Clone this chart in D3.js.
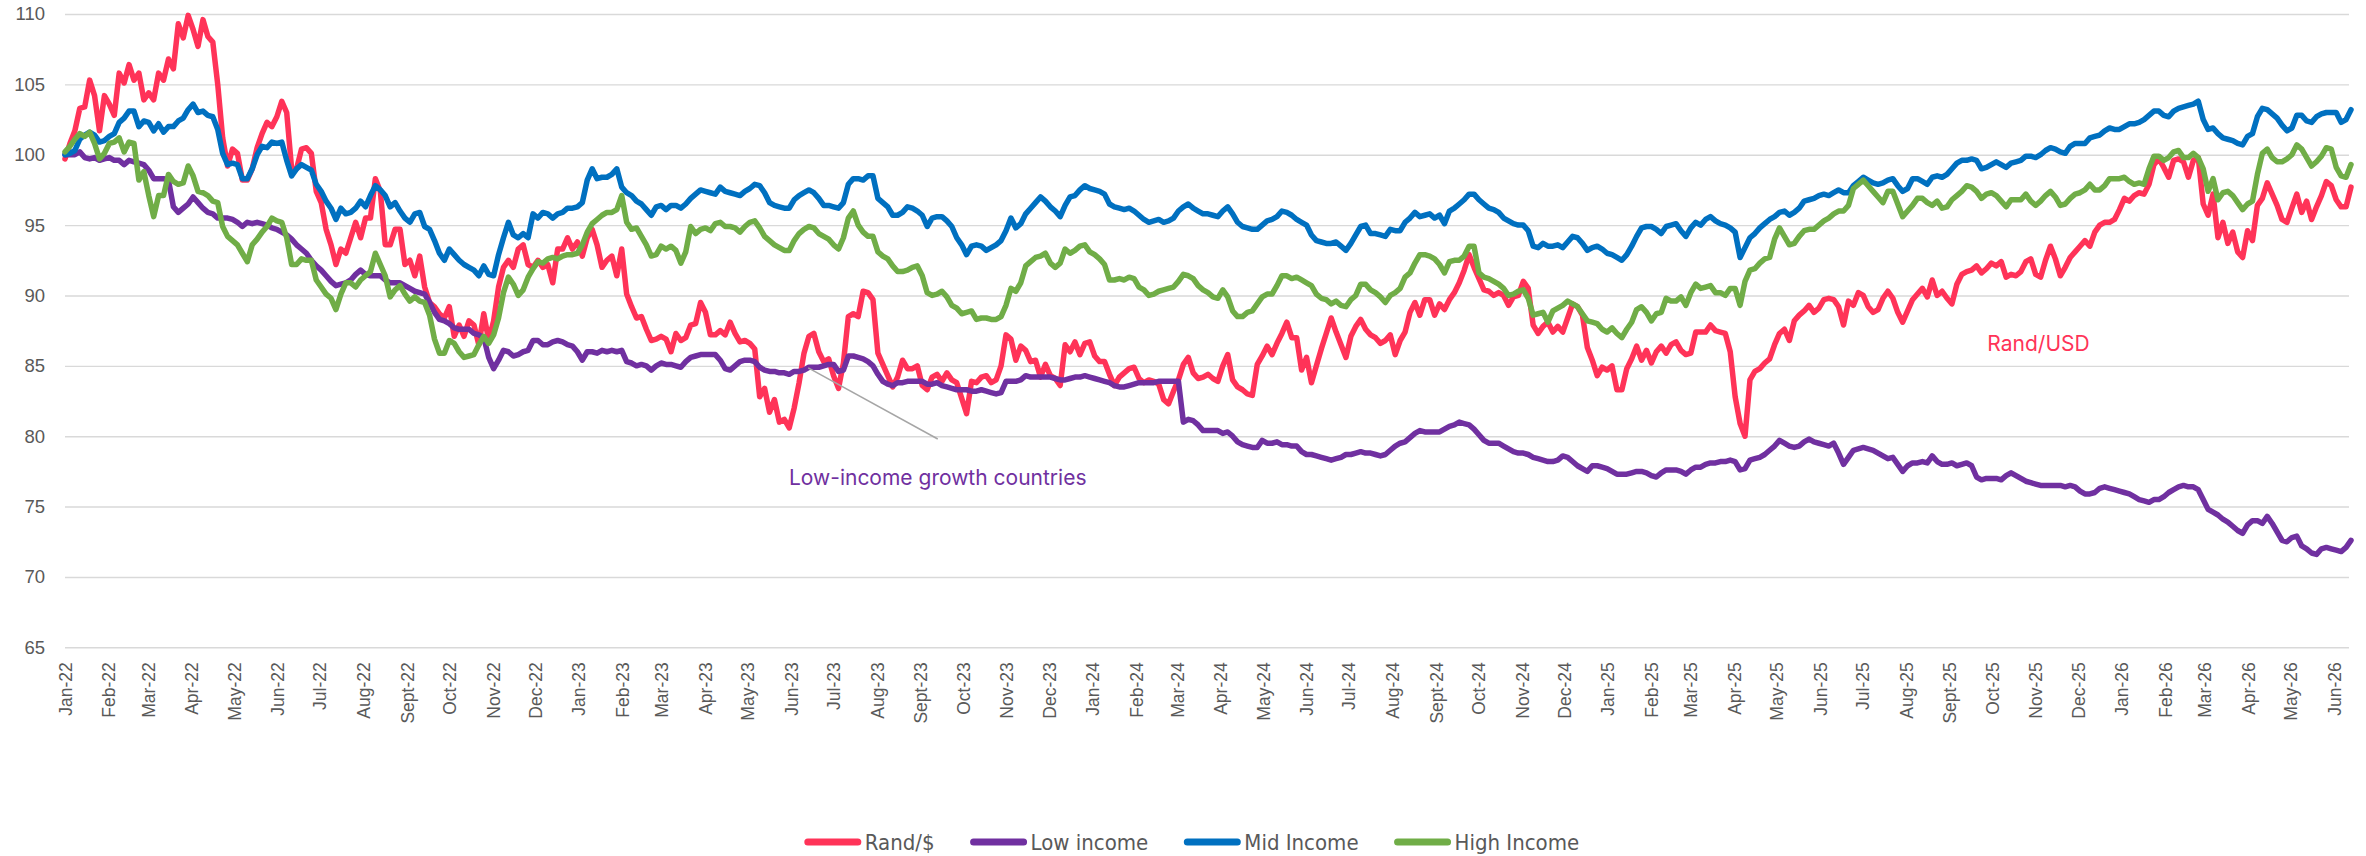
<!DOCTYPE html>
<html>
<head>
<meta charset="utf-8">
<script src="https://cdn.jsdelivr.net/npm/d3@7"></script>
<style>
  html, body { margin: 0; padding: 0; background: #ffffff; }
  svg { display: block; }
</style>
</head>
<body>
<script>
// Index levels (start = 100), sampled twice a week from 1 Jan 2022.
const startDate = new Date(2022, 0, 1);
const stepDays = 3.5;

const randUsd = [
  99.7, 100.8, 101.7, 103.3, 103.4, 105.3, 104.2, 101.7, 104.2, 103.6,
  102.8, 105.8, 105.1, 106.4, 105.3, 105.8, 103.9, 104.4, 103.9, 105.8,
  105.3, 106.8, 106.1, 109.3, 108.3, 109.9, 108.9, 107.7, 109.6, 108.4,
  108.0, 105.0, 101.2, 99.2, 100.4, 100.1, 98.2, 98.2, 99.0, 100.5,
  101.5, 102.3, 102.0, 102.7, 103.8, 103.0, 99.0, 99.0, 100.4, 100.5,
  100.1, 97.4, 96.6, 94.7, 93.6, 92.2, 93.3, 93.0, 94.1, 95.2,
  94.1, 95.5, 95.5, 98.3, 97.4, 93.6, 93.6, 94.7, 94.7, 92.2,
  92.5, 91.4, 92.8, 90.6, 89.5, 89.2, 88.7, 88.4, 89.2, 87.1,
  87.9, 87.1, 88.2, 87.9, 86.5, 88.7, 86.8, 88.2, 90.6, 92.0,
  92.5, 92.0, 93.3, 93.6, 92.2, 92.0, 92.5, 92.0, 92.2, 90.9,
  93.3, 93.3, 94.1, 93.3, 93.8, 92.8, 94.1, 94.7, 93.6, 92.0,
  92.5, 92.8, 91.4, 93.3, 90.1, 89.2, 88.4,
  88.5, 87.6, 86.8, 86.9, 87.1, 86.9, 86.0, 87.3, 86.8, 87.0,
  87.9, 88.0, 89.5, 88.8, 87.2, 87.2, 87.5, 87.2, 88.1, 87.3,
  86.7, 86.8, 86.6, 86.2, 82.8, 83.4, 81.7, 82.6, 81.0, 81.2,
  80.6, 82.0, 83.8, 85.9, 87.1, 87.3, 86.0, 85.3, 85.5, 84.3,
  83.4, 85.2, 88.5, 88.7, 88.5, 90.3, 90.2, 89.7, 85.9, 85.1,
  84.3, 83.5, 84.2, 85.4, 84.8, 84.8, 85.0, 83.6, 83.3, 84.2,
  84.4, 83.9, 84.5, 84.0, 83.8, 82.7, 81.6, 83.9, 83.8, 84.2,
  84.3, 83.8, 84.0, 85.0, 87.2, 86.9, 85.4, 86.4, 86.1, 85.3,
  85.4, 84.2, 85.1, 84.3, 84.1, 83.6, 86.5, 86.0, 86.7, 85.8,
  86.6, 86.7, 85.7, 85.3, 85.3, 84.4, 83.6, 84.2, 84.5, 84.8,
  84.9, 84.1, 83.8, 84.0, 83.9, 83.7, 82.6, 82.3, 83.2, 84.0,
  85.1, 85.6, 84.5, 84.1, 84.2, 84.4,
  84.1, 83.9, 85.0, 85.8, 84.0, 83.5, 83.3, 83.0, 82.9, 85.1,
  85.7, 86.4, 85.8, 86.6, 87.3, 88.1, 87.0, 87.0, 84.7, 85.6,
  83.8, 85.0, 86.2, 87.3, 88.4, 87.4, 86.5, 85.6, 87.1, 87.8,
  88.3, 87.6, 87.2, 87.0, 86.6, 86.8, 87.2, 85.8, 86.8, 87.4,
  88.8, 89.5, 88.6, 89.7, 89.7, 88.6, 89.4, 89.0, 89.7, 90.2,
  90.9, 91.8, 92.9, 92.0, 91.2, 90.4, 90.3, 90.0, 90.2, 90.0,
  89.3, 89.9, 90.0, 91.0, 90.5, 87.9, 87.3, 87.8, 88.1, 87.4,
  87.8, 87.4, 88.4, 89.4, 89.2, 88.6, 86.3, 85.4, 84.3, 84.9,
  84.7, 85.0, 83.3, 83.3, 84.8, 85.5, 86.4, 85.4, 86.1, 85.2,
  86.0, 86.4, 85.9, 86.5, 86.7, 86.1, 85.8, 85.9, 87.4, 87.4,
  87.4, 87.9, 87.5, 87.4, 87.3, 86.0, 82.8, 80.9, 80.0, 84.0,
  84.6, 84.8, 85.2, 85.5, 86.5,
  87.3, 87.6, 86.8, 88.2, 88.6, 88.9, 89.3, 88.8, 89.1, 89.7,
  89.8, 89.7, 89.2, 87.9, 89.6, 89.3, 90.2, 90.0, 89.2, 88.8,
  89.0, 89.8, 90.3, 89.8, 88.8, 88.1, 88.9, 89.7, 90.1, 90.5,
  89.9, 91.1, 90.0, 90.3, 89.8, 89.4, 90.8, 91.5, 91.7, 91.8,
  92.1, 91.6, 91.9, 92.3, 92.1, 92.4, 91.3, 91.5, 91.4, 91.7,
  92.4, 92.6, 91.5, 91.3, 92.5, 93.5, 92.6, 91.4, 92.0, 92.7,
  93.1, 93.5, 93.9, 93.5, 94.5, 95.0, 95.2, 95.2, 95.4, 96.1,
  96.9, 96.7, 97.1, 97.3, 97.2, 97.9, 99.3, 99.7, 99.1, 98.4,
  99.6, 99.7, 99.5, 98.4, 99.6, 99.8, 96.5, 95.7, 97.2, 94.1,
  95.2, 93.7, 94.5, 93.1, 92.7, 94.6, 93.9, 96.4, 96.9, 98.0,
  97.2, 96.4, 95.4, 95.2, 96.2, 97.2, 95.9, 96.7, 95.4, 96.3,
  97.1, 98.1, 97.8, 96.8, 96.3, 96.3, 97.7
];

const lowIncome = [
  100.0, 100.0, 100.0, 100.2, 99.8, 99.7, 99.8, 99.6, 99.7, 99.8,
  99.6, 99.6, 99.3, 99.6, 99.5, 99.4, 99.3, 98.9, 98.3, 98.3,
  98.3, 98.2, 96.3, 95.9, 96.2, 96.5, 97.0, 96.6, 96.2, 95.9,
  95.8, 95.5, 95.5, 95.5, 95.4, 95.2, 94.9, 95.2, 95.1, 95.2,
  95.1, 95.0, 94.8, 94.7, 94.5, 94.3, 94.0, 93.6, 93.3, 93.0,
  92.5, 92.1, 91.8, 91.4, 91.0, 90.7, 90.8, 90.9, 91.1, 91.5,
  91.8, 91.5, 91.4, 91.4, 91.4, 91.1, 90.9, 90.9, 90.9, 90.7,
  90.5, 90.3, 90.2, 90.1, 89.5, 88.8, 88.3, 88.2, 88.0, 87.7,
  87.6, 87.6, 87.6, 87.3, 87.2, 87.0, 85.6, 84.8, 85.4, 86.1,
  86.0, 85.7, 85.8, 86.0, 86.1, 86.8, 86.8, 86.5, 86.5, 86.7,
  86.8, 86.7, 86.5, 86.4, 86.0, 85.4, 86.0, 86.0, 85.9, 86.1,
  86.0, 86.1, 86.0, 86.1, 85.3, 85.2, 85.0,
  85.1, 85.0, 84.7, 85.0, 85.2, 85.1, 85.1, 85.0, 84.9, 85.3,
  85.6, 85.7, 85.8, 85.8, 85.8, 85.8, 85.4, 84.8, 84.7, 85.0,
  85.3, 85.4, 85.4, 85.3, 84.9, 84.7, 84.6, 84.6, 84.5, 84.5,
  84.4, 84.6, 84.6, 84.7, 84.9, 84.9, 84.9, 85.0, 85.1, 85.1,
  84.6, 84.7, 85.7, 85.7, 85.6, 85.5, 85.3, 85.0, 84.4, 83.9,
  83.7, 83.6, 83.8, 83.8, 83.9, 83.9, 83.9, 83.9, 83.7, 83.7,
  83.8, 83.6, 83.5, 83.4, 83.3, 83.3, 83.3, 83.2, 83.2, 83.3,
  83.2, 83.1, 83.0, 83.1, 83.9, 83.9, 83.9, 84.0, 84.3, 84.2,
  84.2, 84.2, 84.2, 84.2, 84.1, 84.0, 84.0, 84.1, 84.2, 84.2,
  84.3, 84.2, 84.1, 84.0, 83.9, 83.8, 83.6, 83.5, 83.5, 83.6,
  83.7, 83.8, 83.8, 83.8, 83.8, 83.9, 83.9, 83.9, 83.9, 83.9,
  81.0, 81.2, 81.1, 80.8, 80.4, 80.4,
  80.4, 80.4, 80.2, 80.3, 80.0, 79.6, 79.4, 79.3, 79.2, 79.2,
  79.7, 79.5, 79.5, 79.6, 79.4, 79.4, 79.3, 79.3, 78.9, 78.7,
  78.7, 78.6, 78.5, 78.4, 78.3, 78.4, 78.5, 78.7, 78.7, 78.8,
  78.9, 78.8, 78.8, 78.7, 78.6, 78.7, 79.0, 79.3, 79.5, 79.6,
  79.9, 80.2, 80.4, 80.3, 80.3, 80.3, 80.3, 80.5, 80.7, 80.8,
  81.0, 80.9, 80.8, 80.5, 80.1, 79.7, 79.5, 79.5, 79.5, 79.3,
  79.1, 78.9, 78.8, 78.8, 78.7, 78.5, 78.4, 78.3, 78.2, 78.2,
  78.3, 78.6, 78.5, 78.2, 77.9, 77.7, 77.5, 77.9, 77.9, 77.8,
  77.7, 77.5, 77.3, 77.3, 77.3, 77.4, 77.5, 77.5, 77.4, 77.2,
  77.1, 77.4, 77.6, 77.6, 77.6, 77.5, 77.3, 77.6, 77.8, 77.8,
  78.0, 78.1, 78.1, 78.2, 78.2, 78.3, 78.2, 77.6, 77.7, 78.3,
  78.4, 78.5, 78.7, 79.0, 79.3,
  79.7, 79.5, 79.3, 79.2, 79.3, 79.6, 79.8, 79.6, 79.5, 79.4,
  79.3, 79.5, 78.8, 78.0, 78.5, 79.0, 79.1, 79.2, 79.1, 79.0,
  78.8, 78.6, 78.4, 78.5, 78.0, 77.5, 77.9, 78.1, 78.1, 78.2,
  78.1, 78.6, 78.2, 78.0, 78.0, 78.1, 77.9, 78.0, 78.1, 77.9,
  77.1, 76.9, 77.0, 77.0, 77.0, 76.9, 77.2, 77.4, 77.2, 77.0,
  76.8, 76.7, 76.6, 76.5, 76.5, 76.5, 76.5, 76.5, 76.4, 76.5,
  76.4, 76.1, 75.9, 75.9, 76.0, 76.3, 76.4, 76.3, 76.2, 76.1,
  76.0, 75.9, 75.7, 75.5, 75.4, 75.3, 75.5, 75.5, 75.7, 76.0,
  76.2, 76.4, 76.5, 76.4, 76.4, 76.2, 75.5, 74.8, 74.6, 74.4,
  74.1, 73.9, 73.6, 73.3, 73.1, 73.7, 74.0, 74.0, 73.8, 74.3,
  73.8, 73.2, 72.6, 72.5, 72.8, 72.9, 72.2, 72.0, 71.7, 71.6,
  72.0, 72.1, 72.0, 71.9, 71.8, 72.1, 72.6
];

const midIncome = [
  100.0, 100.1, 100.3, 101.1, 101.4, 101.6, 101.4, 100.9, 101.0, 101.3,
  101.5, 102.3, 102.6, 103.1, 103.1, 102.0, 102.4, 102.3, 101.7, 102.2,
  101.6, 102.0, 102.0, 102.4, 102.6, 103.2, 103.6, 103.0, 103.1, 102.8,
  102.7, 101.8, 100.1, 99.3, 99.4, 99.3, 98.3, 98.3, 99.0, 100.0,
  100.6, 100.5, 100.9, 100.8, 100.9, 99.6, 98.5, 99.0, 99.3, 99.1,
  98.9, 97.9, 97.4, 96.7, 96.2, 95.4, 96.2, 95.8, 95.9, 96.2,
  96.7, 96.3, 97.1, 97.8, 97.5, 97.1, 96.3, 96.6, 96.0, 95.5,
  95.2, 95.8, 95.9, 94.9, 94.7, 93.9, 93.0, 92.5, 93.3, 92.9,
  92.5, 92.2, 92.0, 91.8, 91.4, 92.1, 91.5, 91.4, 92.9, 94.1,
  95.2, 94.3, 94.1, 94.4, 94.1, 95.8, 95.5, 95.9, 95.8, 95.5,
  95.8, 95.9, 96.2, 96.2, 96.3, 96.6, 98.2, 99.0, 98.3, 98.4,
  98.4, 98.6, 99.0, 97.7, 97.3, 97.1, 96.7,
  96.5, 96.1, 95.7, 96.3, 96.4, 96.1, 96.4, 96.4, 96.2, 96.5,
  96.9, 97.2, 97.5, 97.4, 97.3, 97.2, 97.7, 97.4, 97.3, 97.2,
  97.1, 97.4, 97.6, 97.9, 97.8, 97.3, 96.6, 96.4, 96.3, 96.2,
  96.2, 96.8, 97.1, 97.3, 97.5, 97.3, 96.9, 96.4, 96.4, 96.3,
  96.2, 96.6, 97.9, 98.3, 98.3, 98.2, 98.5, 98.5, 96.9, 96.6,
  96.3, 95.7, 95.7, 95.9, 96.3, 96.2, 96.0, 95.7, 94.9, 95.5,
  95.6, 95.6, 95.3, 94.9, 94.1, 93.6, 92.9, 93.5, 93.6, 93.5,
  93.2, 93.4, 93.6, 93.9, 94.6, 95.5, 94.8, 95.1, 95.8, 96.2,
  96.6, 97.0, 96.7, 96.3, 96.0, 95.6, 96.4, 97.0, 97.1, 97.5,
  97.8, 97.6, 97.5, 97.4, 97.2, 96.5, 96.3, 96.2, 96.1, 96.2,
  96.0, 95.7, 95.4, 95.2, 95.3, 95.4, 95.2, 95.3, 95.5, 96.0,
  96.3, 96.5, 96.2, 96.0, 95.8, 95.8,
  95.7, 95.6, 96.0, 96.3, 95.8, 95.2, 94.9, 94.8, 94.7, 94.7,
  95.0, 95.3, 95.4, 95.6, 96.0, 95.9, 95.7, 95.4, 95.2, 95.0,
  94.3, 93.9, 93.8, 93.7, 93.7, 93.8, 93.5, 93.2, 93.7, 94.3,
  94.9, 95.0, 94.4, 94.4, 94.3, 94.2, 94.7, 94.6, 94.6, 95.2,
  95.5, 95.9, 95.6, 95.7, 95.8, 95.5, 95.7, 95.1, 96.0, 96.2,
  96.5, 96.8, 97.2, 97.2, 96.8, 96.5, 96.2, 96.1, 95.9, 95.5,
  95.3, 95.1, 95.0, 95.0, 94.6, 93.5, 93.4, 93.7, 93.5, 93.5,
  93.6, 93.4, 93.8, 94.2, 94.1, 93.7, 93.2, 93.4, 93.5, 93.3,
  93.0, 92.9, 92.7, 92.5, 92.9, 93.5, 94.2, 94.8, 94.9, 94.9,
  94.7, 94.4, 94.9, 95.0, 95.1, 94.6, 94.2, 94.8, 95.2, 95.0,
  95.4, 95.6, 95.3, 95.1, 95.0, 94.8, 94.5, 92.7, 93.4, 94.1,
  94.4, 94.8, 95.1, 95.4, 95.6,
  95.9, 96.0, 95.7, 95.9, 96.2, 96.7, 96.8, 96.9, 97.1, 97.2,
  97.1, 97.3, 97.5, 97.3, 97.3, 97.8, 98.1, 98.4, 98.2, 98.0,
  97.9, 98.0, 98.2, 98.3, 97.8, 97.4, 97.6, 98.3, 98.3, 98.1,
  97.9, 98.4, 98.5, 98.4, 98.6, 99.0, 99.4, 99.6, 99.6, 99.7,
  99.6, 99.0, 99.1, 99.3, 99.5, 99.3, 99.1, 99.4, 99.5, 99.6,
  99.9, 99.9, 99.8, 100.0, 100.3, 100.5, 100.4, 100.2, 100.1, 100.6,
  100.8, 100.8, 100.8, 101.2, 101.3, 101.4, 101.7, 101.9, 101.8, 101.8,
  102.0, 102.2, 102.2, 102.3, 102.5, 102.8, 103.1, 103.1, 102.8, 102.7,
  103.1, 103.3, 103.4, 103.5, 103.6, 103.8, 102.5, 101.8, 101.9, 101.5,
  101.2, 101.1, 101.0, 100.8, 100.7, 101.3, 101.5, 102.7, 103.3, 103.2,
  102.9, 102.6, 102.1, 101.7, 101.9, 102.8, 102.8, 102.4, 102.3, 102.7,
  102.9, 103.0, 103.0, 103.0, 102.3, 102.5, 103.2
];

const highIncome = [
  100.2, 100.6, 101.1, 101.5, 101.3, 101.6, 100.8, 99.7, 100.1, 100.8,
  100.9, 101.2, 100.2, 100.9, 100.8, 98.2, 98.8, 97.1, 95.6, 97.1,
  97.1, 98.6, 98.1, 97.9, 98.0, 99.2, 98.5, 97.4, 97.3, 97.1,
  96.7, 96.6, 94.9, 94.2, 93.9, 93.6, 93.0, 92.4, 93.6, 94.0,
  94.5, 94.9, 95.5, 95.3, 95.2, 94.1, 92.2, 92.2, 92.6, 92.5,
  92.5, 91.1, 90.6, 90.1, 89.8, 89.0, 90.1, 90.9, 90.9, 90.6,
  91.1, 91.4, 91.7, 93.0, 92.2, 91.4, 89.9, 90.4, 90.7, 90.1,
  89.6, 89.9, 89.6, 89.5, 88.6, 86.9, 85.9, 85.9, 86.8, 86.6,
  86.0, 85.6, 85.7, 85.8, 86.5, 87.1, 86.6, 87.2, 88.4, 90.2,
  91.3, 90.8, 90.0, 90.4, 91.3, 91.9, 92.4, 92.3, 92.6, 92.7,
  92.6, 92.8, 92.9, 92.9, 93.0, 93.6, 94.5, 95.1, 95.4, 95.7,
  95.9, 95.9, 96.1, 97.1, 95.2, 94.7, 94.8,
  94.2, 93.6, 92.8, 92.9, 93.5, 93.3, 93.5, 93.2, 92.3, 93.1,
  94.9, 94.4, 94.7, 94.8, 94.6, 95.1, 95.2, 94.9, 94.9, 94.8,
  94.5, 94.9, 95.2, 95.3, 94.8, 94.2, 93.9, 93.6, 93.4, 93.2,
  93.2, 93.9, 94.4, 94.7, 94.9, 94.8, 94.4, 94.2, 94.0, 93.6,
  93.3, 94.1, 95.5, 96.0, 95.0, 94.5, 94.2, 94.2, 93.1, 92.8,
  92.6, 92.1, 91.7, 91.7, 91.8, 92.0, 92.1, 91.4, 90.2, 90.0,
  90.1, 90.3, 89.9, 89.3, 89.1, 88.7, 88.8, 88.9, 88.3, 88.4,
  88.4, 88.3, 88.3, 88.5, 89.3, 90.5, 90.3, 90.9, 92.1, 92.4,
  92.7, 92.8, 93.0, 92.3, 92.0, 92.3, 93.3, 93.0, 93.2, 93.5,
  93.6, 93.1, 92.9, 92.6, 92.2, 91.1, 91.1, 91.2, 91.1, 91.3,
  91.2, 90.6, 90.4, 90.0, 90.1, 90.3, 90.4, 90.5, 90.6, 91.0,
  91.5, 91.4, 91.2, 90.7, 90.4, 90.2,
  89.9, 89.8, 90.4, 89.9, 88.9, 88.5, 88.5, 88.8, 88.9, 89.4,
  89.9, 90.1, 90.1, 90.7, 91.4, 91.4, 91.2, 91.3, 91.1, 90.9,
  90.7, 90.1, 89.8, 89.7, 89.4, 89.6, 89.3, 89.2, 89.7, 90.0,
  90.8, 90.8, 90.4, 90.2, 89.9, 89.5, 90.0, 90.2, 90.5, 91.3,
  91.6, 92.3, 92.9, 92.9, 92.8, 92.6, 92.2, 91.6, 92.4, 92.5,
  92.5, 92.8, 93.5, 93.5, 91.6, 91.3, 91.2, 91.0, 90.8, 90.5,
  90.0, 90.1, 90.3, 90.4, 89.8, 88.6, 88.7, 88.8, 88.1, 88.9,
  89.1, 89.3, 89.6, 89.4, 89.2, 88.7, 88.2, 88.1, 88.0, 87.6,
  87.4, 87.7, 87.3, 87.0, 87.6, 88.1, 89.0, 89.2, 88.8, 88.2,
  88.7, 88.8, 89.8, 89.6, 89.6, 89.9, 89.3, 90.2, 90.8, 90.5,
  90.6, 90.7, 90.2, 90.2, 90.0, 90.5, 90.5, 89.3, 91.0, 91.8,
  91.9, 92.3, 92.6, 92.7, 94.0,
  94.8, 94.2, 93.6, 93.7, 94.2, 94.6, 94.7, 94.7, 95.0, 95.3,
  95.5, 95.8, 96.0, 96.0, 96.4, 97.6, 97.9, 98.2, 97.8, 97.4,
  97.0, 96.6, 97.4, 97.4, 96.5, 95.6, 96.0, 96.4, 96.9, 96.9,
  96.6, 96.4, 96.7, 96.2, 96.3, 96.8, 97.1, 97.4, 97.8, 97.7,
  97.4, 96.9, 97.2, 97.3, 97.1, 96.7, 96.3, 96.8, 96.8, 96.8,
  97.2, 96.7, 96.4, 96.7, 97.1, 97.4, 97.0, 96.4, 96.5, 96.9,
  97.2, 97.3, 97.5, 97.9, 97.5, 97.5, 97.8, 98.3, 98.3, 98.3,
  98.4, 98.1, 97.9, 98.0, 97.9, 99.0, 99.9, 99.9, 99.6, 99.8,
  100.2, 100.3, 99.8, 99.8, 100.1, 99.8, 99.0, 97.4, 98.3, 96.8,
  97.3, 97.4, 97.1, 96.6, 96.1, 96.5, 96.7, 98.6, 100.1, 100.4,
  99.8, 99.5, 99.5, 99.7, 100.0, 100.7, 100.4, 99.8, 99.2, 99.5,
  99.9, 100.5, 100.4, 99.1, 98.5, 98.4, 99.3
];

const seriesNames = ["Rand/$", "Low income", "Mid Income", "High Income"];
const seriesColors = ["#FF3358", "#7030A0", "#0070C0", "#70AD47"];
const seriesValues = [randUsd, lowIncome, midIncome, highIncome];

const yTickValues = [65, 70, 75, 80, 85, 90, 95, 100, 105, 110];
const monthNames = ["Jan", "Feb", "Mar", "Apr", "May", "Jun", "Jul", "Aug", "Sept", "Oct", "Nov", "Dec"];

// Callout labels placed in data space
const calloutLow = { text: "Low-income growth countries", from: [new Date(2023, 5, 13), 84.85], to: [new Date(2023, 8, 13), 79.8], label: [new Date(2023, 8, 13), 77.1] };
const calloutRand = { text: "Rand/USD", at: [new Date(2025, 10, 3), 86.6] };

// ---- layout ----
const W = 2366, H = 856;
const plot = { left: 65, right: 2351, top: 14, bottom: 647.3 };
const gridRight = 2349;
const tickFont = "'Liberation Sans', Arial, sans-serif";
const DAY = 864e5;
const dateAt = i => new Date(+startDate + i * stepDays * DAY);

const svg = d3.select("body").append("svg")
  .attr("width", W).attr("height", H)
  .style("font-family", tickFont);

const endDate = dateAt(d3.max(seriesValues, s => s.length) - 1);
const x = d3.scaleTime().domain([startDate, endDate]).range([plot.left, plot.right]);
const y = d3.scaleLinear().domain([65, 110]).range([plot.bottom, plot.top]);

// ---- y axis with gridlines ----
const yAxis = d3.axisLeft(y)
  .tickValues(yTickValues)
  .tickSize(-(gridRight - plot.left))
  .tickPadding(20)
  .tickFormat(d3.format("d"));

const gy = svg.append("g").attr("transform", `translate(${plot.left},0)`).call(yAxis);
gy.select(".domain").remove();
gy.selectAll(".tick line").attr("stroke", "#d9d9d9").attr("stroke-width", 1.4);
gy.selectAll(".tick text")
  .attr("fill", "#595959")
  .style("font-size", "18.5px")
  .style("font-family", tickFont);

// ---- x axis, one label per month ----
const monthTicks = d3.timeMonth.range(new Date(2022, 0, 1), new Date(2026, 5, 2));
const xAxis = d3.axisBottom(x)
  .tickValues(monthTicks)
  .tickSize(0)
  .tickFormat(d => `${monthNames[d.getMonth()]}-${String(d.getFullYear()).slice(2)}`);

const gx = svg.append("g").attr("transform", `translate(0,${plot.bottom})`).call(xAxis);
gx.select(".domain").remove();
gx.selectAll(".tick text")
  .attr("transform", "rotate(-90)")
  .attr("x", -15)
  .attr("y", 0)
  .attr("dy", "0.35em")
  .style("text-anchor", "end")
  .attr("fill", "#595959")
  .style("font-size", "17.5px")
  .style("font-family", tickFont);

// ---- series lines ----
const line = d3.line()
  .x((d, i) => x(dateAt(i)))
  .y(d => y(d));

svg.append("g").selectAll("path")
  .data(seriesValues)
  .join("path")
  .attr("d", line)
  .attr("fill", "none")
  .attr("stroke", (d, i) => seriesColors[i])
  .attr("stroke-width", 5.5)
  .attr("stroke-linejoin", "round")
  .attr("stroke-linecap", "round");

// ---- callouts ----
svg.append("line")
  .attr("x1", x(calloutLow.from[0])).attr("y1", y(calloutLow.from[1]))
  .attr("x2", x(calloutLow.to[0])).attr("y2", y(calloutLow.to[1]))
  .attr("stroke", "#a6a6a6").attr("stroke-width", 1.5);

svg.append("text")
  .attr("x", x(calloutLow.label[0])).attr("y", y(calloutLow.label[1]))
  .attr("text-anchor", "middle").attr("dominant-baseline", "central")
  .attr("fill", "#7030A0")
  .style("font-size", "21px")
  .style("font-family", "Inter, 'Noto Sans', sans-serif")
  .text(calloutLow.text);

svg.append("text")
  .attr("x", x(calloutRand.at[0])).attr("y", y(calloutRand.at[1]))
  .attr("text-anchor", "middle").attr("dominant-baseline", "central")
  .attr("fill", "#FF3358")
  .style("font-size", "21px")
  .style("font-family", "Inter, 'Noto Sans', sans-serif")
  .text(calloutRand.text);

// ---- legend ----
const legend = svg.append("g");
const legendFont = "'Liberation Sans Narrow', 'Arial Narrow', 'DejaVu Sans Condensed', sans-serif";
const legendY = 842;
const items = legend.selectAll("g").data(seriesNames).join("g");
items.append("line")
  .attr("x1", 3).attr("x2", 53).attr("y1", 0).attr("y2", 0)
  .attr("stroke", (d, i) => seriesColors[i])
  .attr("stroke-width", 7)
  .attr("stroke-linecap", "round");
items.append("text")
  .attr("x", 60).attr("y", 0)
  .attr("dominant-baseline", "central")
  .attr("fill", "#595959")
  .style("font-size", "22px")
  .style("font-family", legendFont)
  .text(d => d);

const widths = [];
items.each(function () {
  widths.push(60 + this.querySelector("text").getComputedTextLength());
});
const gap = 36;
const total = d3.sum(widths) + gap * (widths.length - 1);
let cursor = 1192 - total / 2;
items.attr("transform", (d, i) => {
  const t = `translate(${cursor},${legendY})`;
  cursor += widths[i] + gap;
  return t;
});
</script>
</body>
</html>
